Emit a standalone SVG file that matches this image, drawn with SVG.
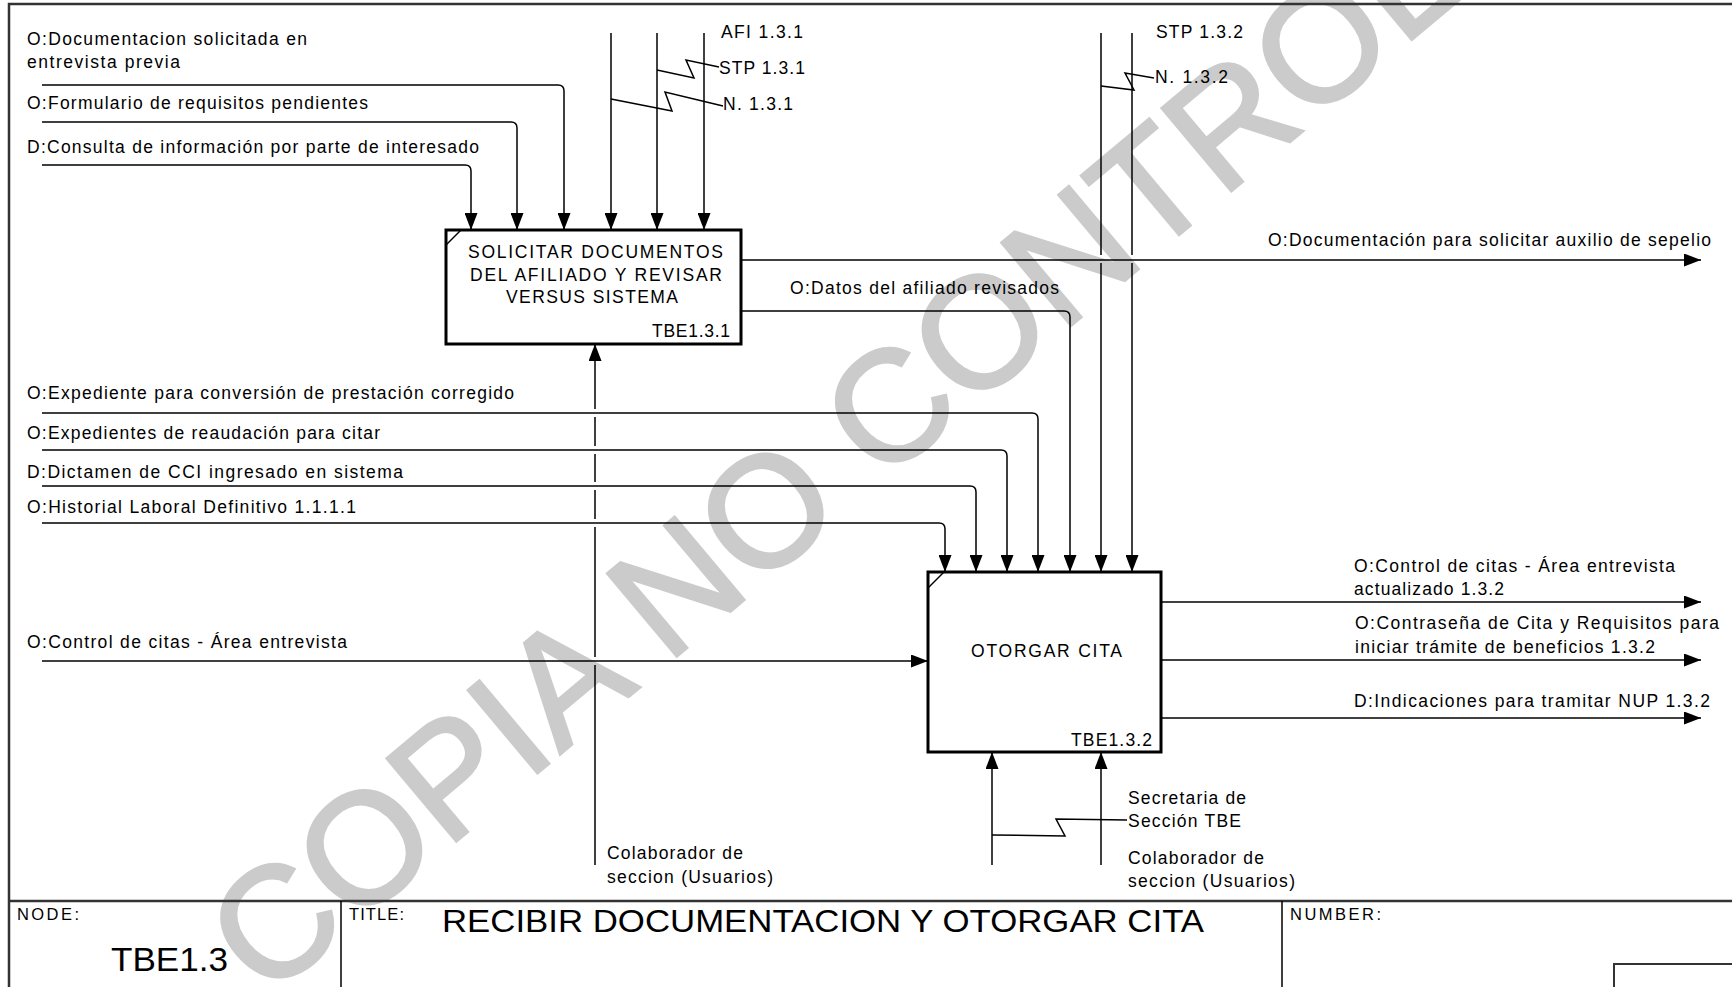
<svg xmlns="http://www.w3.org/2000/svg" width="1732" height="987" viewBox="0 0 1732 987">
<style>
text{font-family:"Liberation Sans",Arial,sans-serif;fill:#000}
.l{font-size:17.5px}
.s{font-size:16.5px}
.c{fill:none;stroke:#000;stroke-width:1.5}
.b{fill:#fff;stroke:#000;stroke-width:3}
.f{fill:none;stroke:#333;stroke-width:2.5}
.wm{font-size:157px;fill:#cbcbcb;stroke:#cbcbcb;stroke-width:3}
</style>
<defs>
<marker id="ah" viewBox="0 0 17 13" markerWidth="17" markerHeight="13" refX="17" refY="6.5" orient="auto" markerUnits="userSpaceOnUse"><path d="M0,0 L17,6.5 L0,13 z" fill="#000"/></marker>
</defs>
<rect x="0" y="0" width="1732" height="987" fill="#fff"/>
<g id="watermark"><text class="wm" x="266" y="1001" transform="rotate(-40 266 1001)">COPIA NO CONTROLADA</text></g>
<g id="frame">
<path class="f" d="M9,987 V4 H1732"/>
<path class="f" d="M9,901 H1732"/>
<path class="c" d="M341,901 V987 M1282,901 V987"/>
<path fill="none" stroke="#333" stroke-width="2" d="M1614,987 V964 H1732"/>
<text class="s" x="17" y="920" textLength="62" lengthAdjust="spacing">NODE:</text>
<text class="s" x="349" y="920" textLength="55" lengthAdjust="spacing">TITLE:</text>
<text x="442" y="932" font-size="32" textLength="762" lengthAdjust="spacingAndGlyphs">RECIBIR DOCUMENTACION Y OTORGAR CITA</text>
<text class="s" x="1290" y="920" textLength="91" lengthAdjust="spacing">NUMBER:</text>
<text x="111" y="971" font-size="33" textLength="117" lengthAdjust="spacingAndGlyphs">TBE1.3</text>
</g>
<g id="connectors">
<path class="c" d="M42,85 H558 Q564,85 564,91 V230" marker-end="url(#ah)"/>
<path class="c" d="M42,122 H511 Q517,122 517,128 V230" marker-end="url(#ah)"/>
<path class="c" d="M42,165 H465 Q471,165 471,171 V230" marker-end="url(#ah)"/>
<path class="c" d="M611,33 V230" marker-end="url(#ah)"/>
<path class="c" d="M657,33 V230" marker-end="url(#ah)"/>
<path class="c" d="M704,33 V230" marker-end="url(#ah)"/>
<path class="c" d="M657,70 L694,78 L686,60 L719,67"/>
<path class="c" d="M611,99 L672,111 L665,92 L723,106"/>
<path class="c" d="M1101,33 V255 M1132,33 V255"/>
<path class="c" d="M1101,263 V572" marker-end="url(#ah)"/>
<path class="c" d="M1132,263 V572" marker-end="url(#ah)"/>
<path class="c" d="M1101,86 L1134,90 L1125,73 L1154,78"/>
<path class="c" d="M741,260 H1701" marker-end="url(#ah)"/>
<path class="c" d="M741,311 H1064 Q1070,311 1070,317 V572" marker-end="url(#ah)"/>
<path class="c" d="M42,413 H1032 Q1038,413 1038,419 V572" marker-end="url(#ah)"/>
<path class="c" d="M42,450 H1001 Q1007,450 1007,456 V572" marker-end="url(#ah)"/>
<path class="c" d="M42,486 H970 Q976,486 976,492 V572" marker-end="url(#ah)"/>
<path class="c" d="M42,523 H939 Q945,523 945,529 V572" marker-end="url(#ah)"/>
<path class="c" d="M42,661 H928" marker-end="url(#ah)"/>
<path class="c" d="M595,865 V665 M595,657 V527 M595,519 V490 M595,482 V454 M595,446 V417"/>
<path class="c" d="M595,409 V344" marker-end="url(#ah)"/>
<path class="c" d="M992,865 V752" marker-end="url(#ah)"/>
<path class="c" d="M1101,865 V752" marker-end="url(#ah)"/>
<path class="c" d="M992,835 L1065,836 L1056,819 L1127,820"/>
<path class="c" d="M1161,602 H1701" marker-end="url(#ah)"/>
<path class="c" d="M1161,660 H1701" marker-end="url(#ah)"/>
<path class="c" d="M1161,718 H1701" marker-end="url(#ah)"/>
</g>
<g id="labels">
<text class="l" x="27" y="45" textLength="280" lengthAdjust="spacing">O:Documentacion solicitada en</text>
<text class="l" x="27" y="68" textLength="153" lengthAdjust="spacing">entrevista previa</text>
<text class="l" x="27" y="109" textLength="341" lengthAdjust="spacing">O:Formulario de requisitos pendientes</text>
<text class="l" x="27" y="153" textLength="452" lengthAdjust="spacing">D:Consulta de información por parte de interesado</text>
<text class="l" x="721" y="38" textLength="82" lengthAdjust="spacing">AFI 1.3.1</text>
<text class="l" x="719" y="74" textLength="86" lengthAdjust="spacing">STP 1.3.1</text>
<text class="l" x="723" y="110" textLength="70" lengthAdjust="spacing">N. 1.3.1</text>
<text class="l" x="1156" y="38" textLength="87" lengthAdjust="spacing">STP 1.3.2</text>
<text class="l" x="1155" y="83" textLength="73" lengthAdjust="spacing">N. 1.3.2</text>
<text class="l" x="1268" y="246" textLength="443" lengthAdjust="spacing">O:Documentación para solicitar auxilio de sepelio</text>
<text class="l" x="790" y="294" textLength="269" lengthAdjust="spacing">O:Datos del afiliado revisados</text>
<text class="l" x="27" y="399" textLength="487" lengthAdjust="spacing">O:Expediente para conversión de prestación corregido</text>
<text class="l" x="27" y="439" textLength="353" lengthAdjust="spacing">O:Expedientes de reaudación para citar</text>
<text class="l" x="27" y="478" textLength="376" lengthAdjust="spacing">D:Dictamen de CCI ingresado en sistema</text>
<text class="l" x="27" y="513" textLength="329" lengthAdjust="spacing">O:Historial Laboral Definitivo 1.1.1.1</text>
<text class="l" x="27" y="648" textLength="320" lengthAdjust="spacing">O:Control de citas - Área entrevista</text>
<text class="l" x="1354" y="572" textLength="321" lengthAdjust="spacing">O:Control de citas - Área entrevista</text>
<text class="l" x="1354" y="595" textLength="150" lengthAdjust="spacing">actualizado 1.3.2</text>
<text class="l" x="1355" y="629" textLength="364" lengthAdjust="spacing">O:Contraseña de Cita y Requisitos para</text>
<text class="l" x="1355" y="653" textLength="300" lengthAdjust="spacing">iniciar trámite de beneficios 1.3.2</text>
<text class="l" x="1354" y="707" textLength="356" lengthAdjust="spacing">D:Indicaciones para tramitar NUP 1.3.2</text>
<text class="l" x="607" y="859" textLength="136" lengthAdjust="spacing">Colaborador de</text>
<text class="l" x="607" y="883" textLength="166" lengthAdjust="spacing">seccion (Usuarios)</text>
<text class="l" x="1128" y="804" textLength="118" lengthAdjust="spacing">Secretaria de</text>
<text class="l" x="1128" y="827" textLength="113" lengthAdjust="spacing">Sección TBE</text>
<text class="l" x="1128" y="864" textLength="136" lengthAdjust="spacing">Colaborador de</text>
<text class="l" x="1128" y="887" textLength="167" lengthAdjust="spacing">seccion (Usuarios)</text>
</g>
<g id="node-TBE131">
<rect class="b" x="446" y="230" width="295" height="114"/>
<path class="c" d="M446,245 L461,230"/>
<text class="l" x="468" y="258" textLength="255" lengthAdjust="spacing">SOLICITAR DOCUMENTOS</text>
<text class="l" x="470" y="281" textLength="252" lengthAdjust="spacing">DEL AFILIADO Y REVISAR</text>
<text class="l" x="506" y="303" textLength="172" lengthAdjust="spacing">VERSUS SISTEMA</text>
<text class="l" x="652" y="337" textLength="78" lengthAdjust="spacing">TBE1.3.1</text>
</g>
<g id="node-TBE132">
<rect class="b" x="928" y="572" width="233" height="180"/>
<path class="c" d="M928,588 L944,572"/>
<text class="l" x="971" y="657" textLength="151" lengthAdjust="spacing">OTORGAR CITA</text>
<text class="l" x="1071" y="746" textLength="81" lengthAdjust="spacing">TBE1.3.2</text>
</g>
</svg>
